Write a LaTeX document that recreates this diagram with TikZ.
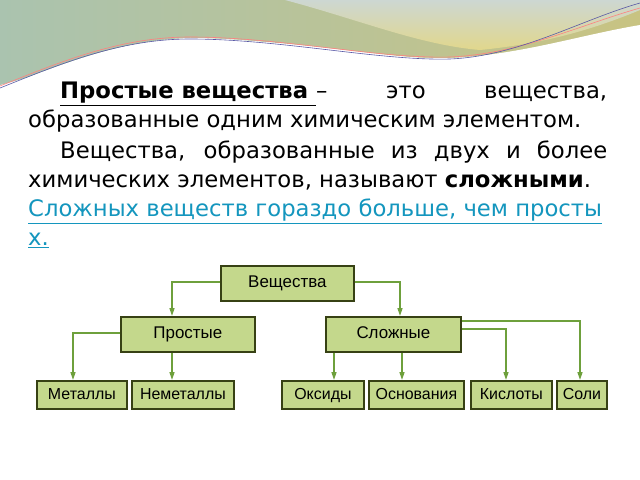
\documentclass[tikz,border=0pt]{standalone}
\usepackage{fontspec}
\setmainfont{DejaVu Sans}
\newfontfamily\arialf{Liberation Sans}
\usetikzlibrary{arrows.meta}
\definecolor{boxfill}{RGB}{196,216,140}
\definecolor{boxdraw}{RGB}{55,65,20}
\definecolor{arr}{RGB}{110,160,60}
\definecolor{linkc}{RGB}{20,150,190}
\definecolor{olive}{RGB}{200,195,130}
\definecolor{sage}{RGB}{170,195,175}
\definecolor{skyg}{RGB}{205,215,210}
\definecolor{paley}{RGB}{225,215,140}
\begin{document}
\begin{tikzpicture}[x=1bp,y=-1bp,
  box/.style={draw=boxdraw,line width=1.8bp,fill=boxfill,inner sep=0pt,anchor=north west},
  lbl/.style={font=\arialf\fontsize{17}{19}\selectfont,text height=12bp,text depth=3bp,inner sep=0pt},
  conn/.style={draw=arr,line width=1.5bp,-{Triangle[length=8bp,width=5bp]}},
  para/.style={anchor=north west,inner sep=0pt,font=\fontsize{22.8}{29}\selectfont,text width=579bp,align=justify}]
\useasboundingbox (0,0) rectangle (640,480);
\fill[white] (0,0) rectangle (640,480);
% banner
\shade[left color=sage,right color=olive] (0,0) -- (640,0) -- (640,30) .. controls (560,45) and (500,55) .. (450,60) .. controls (350,55) and (250,30) .. (150,45) .. controls (90,55) and (40,75) .. (0,85) -- cycle;
\shade[top color=skyg,bottom color=paley] (285,0) -- (640,0) -- (640,10) .. controls (580,35) and (530,45) .. (480,50) .. controls (420,45) and (360,20) .. (285,0) -- cycle;
\fill[white] (0,88) .. controls (60,65) and (120,40) .. (190,38) .. controls (280,38) and (380,60) .. (450,58) .. controls (520,55) and (580,35) .. (640,25) -- (640,480) -- (0,480) -- cycle;
\draw[red!50,line width=0.6bp] (0,86) .. controls (60,62) and (120,37) .. (190,37) .. controls (280,37) and (380,59) .. (450,57) .. controls (520,54) and (580,25) .. (640,8);
\draw[blue!30!gray,line width=0.6bp] (0,88) .. controls (60,64) and (120,39) .. (190,39) .. controls (280,39) and (380,61) .. (450,59) .. controls (520,56) and (580,20) .. (640,3);
% text
\node[para] (p1) at (28,82) {\hspace*{32bp}\underline{\textbf{Простые вещества }}– это вещества,\linebreak образованные одним химическим элементом.};
\node[para] (p2) at (28,141) {\hspace*{32bp}Вещества, образованные из двух и более\linebreak химических элементов, называют \textbf{сложными}.\par
\raggedright\color{linkc}\underline{Сложных веществ гораздо больше, чем просты}\\\underline{х.}};
% diagram
\node[box,minimum width=133bp,minimum height=35bp] (v) at (220,265) {};
\node[lbl] at (v.center) {Вещества};
\node[box,minimum width=134bp,minimum height=35bp] (pr) at (120,316) {};
\node[lbl] at (pr.center) {Простые};
\node[box,minimum width=135bp,minimum height=35bp] (sl) at (325,316) {};
\node[lbl] at (sl.center) {Сложные};
\foreach \n/\x/\w/\t in {m/36/90/Металлы, nm/131/102/Неметаллы, o/281/82/Оксиды, os/368/95/Основания, k/470/81/Кислоты, s/556/50/Соли}{
  \node[box,minimum width=\w bp,minimum height=28bp] (\n) at (\x,380) {};
  \node[lbl,font=\arialf\fontsize{16}{18}\selectfont] at (\n.center) {\t};
}
\coordinate (c1) at (172,282);
\coordinate (c2) at (400,282);
\coordinate (c3) at (73,333);
\coordinate (c4) at (506,329);
\coordinate (c5) at (580,321);
\draw[conn] (v.west|-c1) -| (pr.north-|c1);
\draw[conn] (v.east|-c2) -| (sl.north-|c2);
\draw[conn] (pr.west|-c3) -| (m.north-|c3);
\draw[conn] (pr.south-|c1) -- (nm.north-|c1);
\draw[conn] (sl.south-|334,0) -- (o.north-|334,0);
\draw[conn] (sl.south-|402,0) -- (os.north-|402,0);
\draw[conn] (sl.east|-c4) -| (k.north-|c4);
\draw[conn] (sl.east|-c5) -| (s.north-|c5);
\end{tikzpicture}
\end{document}
